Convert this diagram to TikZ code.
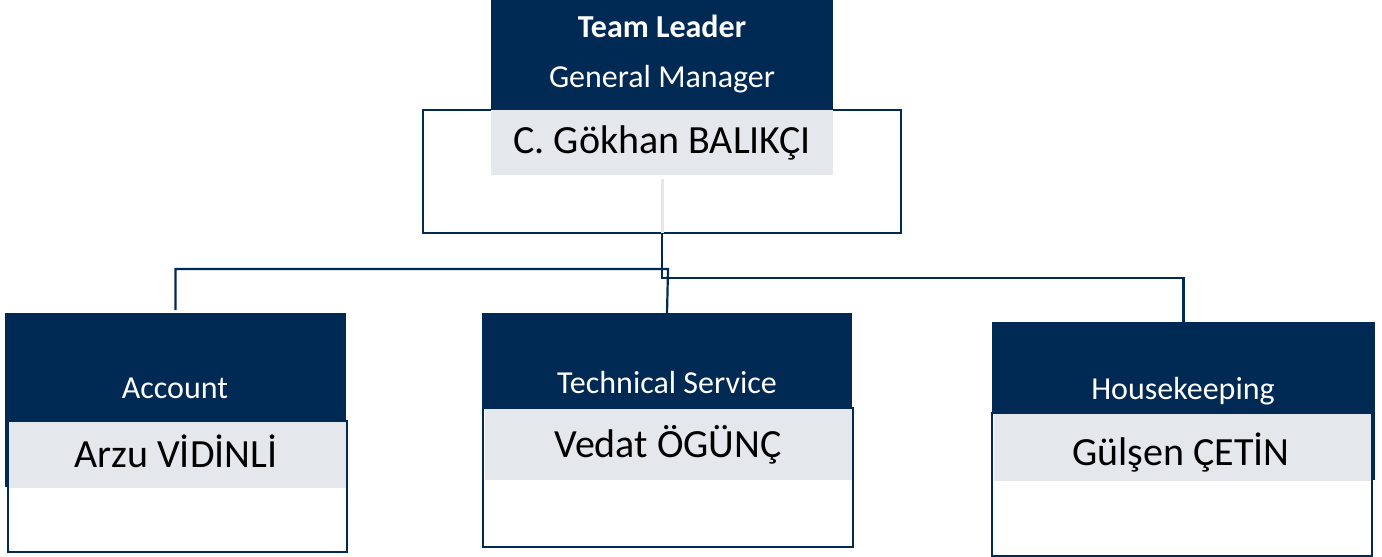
\documentclass[tikz,border=0pt]{standalone}
\usepackage{fontspec}
\setmainfont{Carlito}
\definecolor{navy}{RGB}{0,41,84}
\definecolor{pale}{RGB}{228,231,236}
\tikzset{
  band/.style={fill=navy, draw=none, inner sep=0pt, outer sep=0pt},
  frame/.style={draw=navy, line width=2.2pt, fill=white, inner sep=0pt, outer sep=0pt},
  namebar/.style={fill=pale, draw=none, inner sep=0pt, outer sep=0pt},
  roletext/.style={text=white, anchor=base, inner sep=0pt, font=\fontsize{32}{38}\selectfont},
  leadtext/.style={text=white, anchor=base, inner sep=0pt, font=\fontsize{32}{38}\selectfont\bfseries},
  nametext/.style={text=black, anchor=base, inner sep=0pt, font=\fontsize{40}{46}\selectfont},
  link/.style={draw=navy, line width=2.2pt}
}
\begin{document}
\begin{tikzpicture}[x=1pt, y=-1pt]
\useasboundingbox (0,0) rectangle (1382,557);

% General manager
\node[frame, minimum width=478pt, minimum height=123pt] (tlframe) at (662,171.5) {};
\node[band, minimum width=342pt, minimum height=110pt] (tlhead) at (662,55) {};
\node[namebar, minimum width=342pt, minimum height=65pt] (tlname) at (662,142.5) {};
\node[leadtext] (tltitle) at (662,37) {Team Leader};
\node[roletext] (tlrole) at (662,87) {General Manager};
\node[nametext] (tlperson) at (662,153) {C. Gökhan BALIKÇI};
\draw[pale, line width=3pt] (tlname.south) ++(0,4) -- (tlframe.south);

% Account
\node[band, minimum width=341pt, minimum height=174pt] (acchead) at (175.5,400) {};
\node[frame, minimum width=339pt, minimum height=131pt] (accframe) at (177.5,486.5) {};
\node[namebar, minimum width=337pt, minimum height=66pt] (accname) at (177.5,455) {};
\node[roletext] (accrole) at (175,398) {Account};
\node[nametext] (accperson) at (176,467) {Arzu VİDİNLİ};

% Technical service
\node[band, minimum width=370pt, minimum height=95pt] (techhead) at (667,360.5) {};
\node[frame, minimum width=370pt, minimum height=139pt] (techframe) at (668,477.5) {};
\node[namebar, minimum width=367pt, minimum height=71pt] (techname) at (668,444) {};
\node[roletext] (techrole) at (667,393) {Technical Service};
\node[nametext] (techperson) at (668,457) {Vedat ÖGÜNÇ};

% Housekeeping
\node[band, minimum width=383pt, minimum height=158pt] (hkhead) at (1183.5,401) {};
\node[frame, minimum width=380pt, minimum height=143pt] (hkframe) at (1182,484.5) {};
\node[namebar, minimum width=377pt, minimum height=67pt] (hkname) at (1182,447.5) {};
\node[roletext] (hkrole) at (1183,399) {Housekeeping};
\node[nametext] (hkperson) at (1181,465) {Gülşen ÇETİN};

% Reporting lines
\draw[link] (acchead.north) ++(0,-3) |- (668,269) -- ([yshift=-1pt]techhead.north);
\draw[link] (tlframe.south) -- ++(0,45) -| ([yshift=-4pt]hkhead.north);
\end{tikzpicture}
\end{document}
